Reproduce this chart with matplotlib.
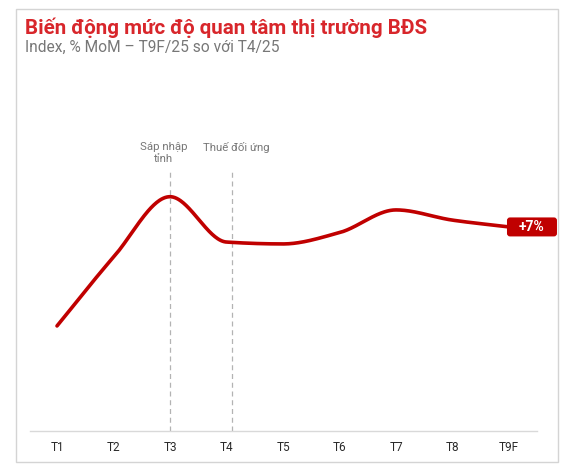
import numpy as np
import matplotlib.pyplot as plt
from matplotlib.patches import FancyBboxPatch, Rectangle
from matplotlib.transforms import IdentityTransform

# data (index, T4 = 100)
months = ["T1", "T2", "T3", "T4", "T5", "T6", "T7", "T8", "T9F"]
index_vals = [55.6, 92.0, 124.0, 100.0, 99.0, 105.0, 117.0, 111.6, 108.0]
event_labels = ["Sáp nhập\ntỉnh", "Thuế đối ứng"]
event_pos = [2.0, 3.1]
change_label = "+7%"

title = "Biến động mức độ quan tâm thị trường BĐS"
subtitle = "Index, % MoM – T9F/25 so với T4/25"

RED = "#c00000"
TITLE_RED = "#d8262b"
FONT = ["Roboto", "DejaVu Sans"]

plt.rcParams["font.family"] = FONT


def monotone_curve(x, y, n=60):
    # Fritsch-Carlson monotone cubic, only for drawing a smooth line
    x = np.asarray(x, float)
    y = np.asarray(y, float)
    h = np.diff(x)
    s = np.diff(y) / h
    m = np.zeros_like(y)
    m[0], m[-1] = s[0], s[-1]
    for i in range(1, len(y) - 1):
        if s[i - 1] * s[i] <= 0:
            m[i] = 0
        else:
            w1 = 2 * h[i] + h[i - 1]
            w2 = h[i] + 2 * h[i - 1]
            m[i] = (w1 + w2) / (w1 / s[i - 1] + w2 / s[i])
    xs, ys = [], []
    for i in range(len(x) - 1):
        t = np.linspace(0, 1, n)
        h00 = 2 * t**3 - 3 * t**2 + 1
        h10 = t**3 - 2 * t**2 + t
        h01 = -2 * t**3 + 3 * t**2
        h11 = t**3 - t**2
        xs.append(x[i] + t * h[i])
        ys.append(h00 * y[i] + h10 * h[i] * m[i] + h01 * y[i + 1] + h11 * h[i] * m[i + 1])
    return np.concatenate(xs), np.concatenate(ys)


fig = plt.figure(figsize=(5.64, 4.67), dpi=100)
fig.patch.set_facecolor("white")

# outer card frame
fig.add_artist(Rectangle((16 / 564, 1 - 462 / 467), 542 / 564, 453 / 467,
                         transform=fig.transFigure, fill=False,
                         ec="#d4d4d4", lw=1.0))

ax = fig.add_axes([30 / 564, 36 / 467, 507 / 564, 260 / 467])
x = np.arange(len(months))
cx, cy = monotone_curve(x, index_vals)
ax.plot(cx, cy, color=RED, lw=2.6, solid_capstyle="round", zorder=3)

ax.set_xlim(-0.478, 8.496)
ax.set_ylim(0, 137.6)
ax.set_xticks(x)
ax.set_xticklabels(months, fontsize=8.5, color="#2a2a2a")
ax.tick_params(axis="x", length=0, pad=7)
ax.set_yticks([])
for side in ["top", "left", "right"]:
    ax.spines[side].set_visible(False)
ax.spines["bottom"].set_color("#d9d9d9")
ax.spines["bottom"].set_linewidth(1.0)

# event markers
text_offsets = [-4.5, 3.2]
for pos, lab, dx in zip(event_pos, event_labels, text_offsets):
    ax.axvline(pos, color="#b3b3b3", lw=0.9, ls=(0, (4, 3)), zorder=1)
    ax.annotate(lab, xy=(pos, 1), xycoords=("data", "axes fraction"),
                xytext=(dx, 21), textcoords="offset points",
                ha="center", va="top", fontsize=8.2, color="#777777",
                linespacing=1.25)

# end label box
px, py = ax.transData.transform((x[-1], index_vals[-1]))
fig.add_artist(FancyBboxPatch((px - 2, py - 9.5), 50, 19,
                              boxstyle="round,pad=0,rounding_size=3",
                              transform=IdentityTransform(),
                              fc=RED, ec="none", zorder=5))
fig.text(px + 23, py, change_label, transform=IdentityTransform(),
         ha="center", va="center", fontsize=10, fontweight="bold",
         color="white", zorder=6)

fig.text(25 / 564, 1 - 33.5 / 467, title, ha="left", va="baseline",
         fontsize=14.8, fontweight="bold", color=TITLE_RED)
fig.text(25 / 564, 1 - 51.5 / 467, subtitle, ha="left", va="baseline",
         fontsize=11.2, color="#777777")

fig.savefig("out.png", dpi=100)
